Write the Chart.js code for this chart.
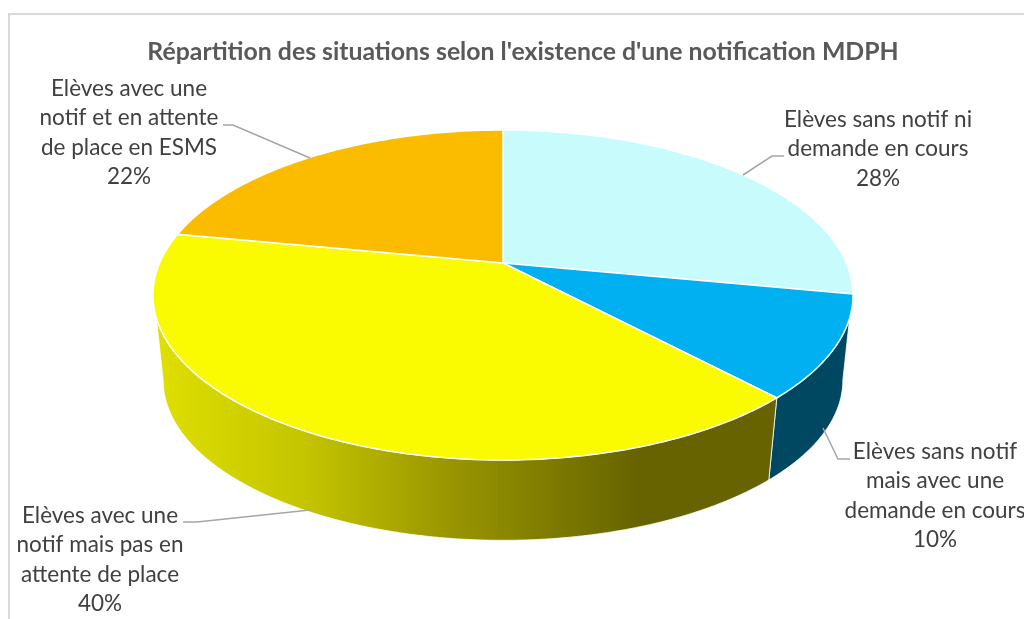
<!DOCTYPE html>
<html lang="fr">
<head>
<meta charset="utf-8">
<title>Répartition MDPH</title>
<script src="https://cdn.jsdelivr.net/npm/chart.js@4/dist/chart.umd.js"></script>
<style>
  html, body { margin: 0; padding: 0; background: #fff; overflow: hidden; }
  canvas { display: block; }
</style>
</head>
<body>
<canvas id="pie3d" width="1024" height="619"></canvas>
<script>
// Données
const titleText = "Répartition des situations selon l'existence d'une notification MDPH";
const categories = [
  ["Elèves sans notif ni", "demande en cours"],
  ["Elèves sans notif", "mais avec une", "demande en cours"],
  ["Elèves avec une", "notif mais pas en", "attente de place"],
  ["Elèves avec une", "notif et en attente", "de place en ESMS"]
];
const shares = [28, 10, 40, 22];

// Couleurs
const topColors = ["#C8FBFC", "#00B0F0", "#FAFA00", "#FBBC00"];
const wallColors = ["#8CB0B0", "#004761", null, "#B08400"];
const textColor = "#404040";
const leaderColor = "#A6A6A6";

// Position des étiquettes et des traits de rappel
const labelPos = [
  { x: 878, y: 120 },
  { x: 935, y: 452 },
  { x: 100, y: 516 },
  { x: 129, y: 89 }
];
const leaders = [
  [[743, 175], [772, 156], [784, 156]],
  [[823, 428], [838, 459], [850, 459]],
  [[310, 510], [197, 522], [183, 522]],
  [[310, 158], [233, 125], [223, 125]]
];

// Projection en perspective du disque
const persp = 0.194;
const topDisk = { x: 503, y: 263, a: 343.4, b: 158.8 };
const bottomDisk = { x: 503, y: 349, a: 333.4, b: 154.2 };
const topSilhouette = Math.asin(0.3245);
const bottomSilhouette = Math.asin(persp);

function project(disk, angle) {
  const u = Math.cos(angle), v = Math.sin(angle);
  const w = 1 / (1 - persp * v);
  return [disk.x + disk.a * u * w, disk.y + disk.b * v * w];
}

function traceRim(ctx, disk, from, to) {
  const steps = Math.max(2, Math.ceil(Math.abs(to - from) * 80));
  for (let i = 0; i <= steps; i++) {
    const p = project(disk, from + (to - from) * i / steps);
    ctx.lineTo(p[0], p[1]);
  }
}

function drawWall(ctx, arc, i) {
  const topFrom = Math.max(arc.startAngle, topSilhouette);
  const topTo = Math.min(arc.endAngle, Math.PI - topSilhouette);
  const botFrom = Math.max(arc.startAngle, bottomSilhouette);
  const botTo = Math.min(arc.endAngle, Math.PI - bottomSilhouette);
  if (topTo <= topFrom) return;

  ctx.beginPath();
  traceRim(ctx, topDisk, topFrom, topTo);
  traceRim(ctx, bottomDisk, botTo, botFrom);
  ctx.closePath();
  if (wallColors[i]) {
    ctx.fillStyle = wallColors[i];
  } else {
    const g = ctx.createLinearGradient(163, 0, 640, 0);
    g.addColorStop(0, "#DEDE00");
    g.addColorStop(0.3, "#C4C400");
    g.addColorStop(0.6, "#999600");
    g.addColorStop(1, "#666300");
    ctx.fillStyle = g;
  }
  ctx.fill();
  ctx.strokeStyle = "rgba(255,255,255,0.8)";
  ctx.lineWidth = 1;
  ctx.stroke();
}

function drawTop(ctx, arc, i) {
  ctx.beginPath();
  ctx.moveTo(topDisk.x, topDisk.y);
  traceRim(ctx, topDisk, arc.startAngle, arc.endAngle);
  ctx.closePath();
  ctx.fillStyle = topColors[i];
  ctx.fill();
  ctx.strokeStyle = "#fff";
  ctx.lineWidth = 1.5;
  ctx.stroke();
}

function drawLabels(ctx) {
  ctx.strokeStyle = leaderColor;
  ctx.lineWidth = 1.5;
  leaders.forEach(pts => {
    ctx.beginPath();
    pts.forEach(p => ctx.lineTo(p[0], p[1]));
    ctx.stroke();
  });

  ctx.fillStyle = textColor;
  ctx.font = "22.5px Lato";
  ctx.textAlign = "center";
  ctx.textBaseline = "middle";
  categories.forEach((lines, i) => {
    const rows = lines.concat(shares[i] + "%");
    rows.forEach((txt, r) => ctx.fillText(txt, labelPos[i].x, labelPos[i].y + r * 29.2));
  });
}

// Plugin : dessine le camembert 3D à partir des arcs calculés par Chart.js
const pie3d = {
  id: "pie3d",
  beforeDatasetsDraw(chart) {
    const ctx = chart.ctx;
    const arcs = chart.getDatasetMeta(0).data;

    ctx.save();
    ctx.strokeStyle = "#D9D9D9";
    ctx.lineWidth = 2;
    ctx.beginPath();
    ctx.moveTo(9, 619);
    ctx.lineTo(9, 14);
    ctx.lineTo(1024, 14);
    ctx.stroke();

    arcs.forEach((arc, i) => drawWall(ctx, arc, i));
    arcs.forEach((arc, i) => drawTop(ctx, arc, i));
    drawLabels(ctx);
    ctx.restore();
    return false;
  }
};

new Chart(document.getElementById("pie3d"), {
  type: "pie",
  data: {
    labels: categories.map(c => c.join(" ")),
    datasets: [{ data: shares, backgroundColor: topColors, borderColor: "#fff" }]
  },
  options: {
    responsive: false,
    animation: false,
    layout: { padding: { left: 22, top: 37 } },
    plugins: {
      legend: { display: false },
      tooltip: { enabled: false },
      title: {
        display: true,
        text: titleText,
        color: "#595959",
        font: { family: "Lato", size: 24.8, weight: "bold" },
        padding: 0
      }
    }
  },
  plugins: [pie3d]
});
</script>
</body>
</html>
